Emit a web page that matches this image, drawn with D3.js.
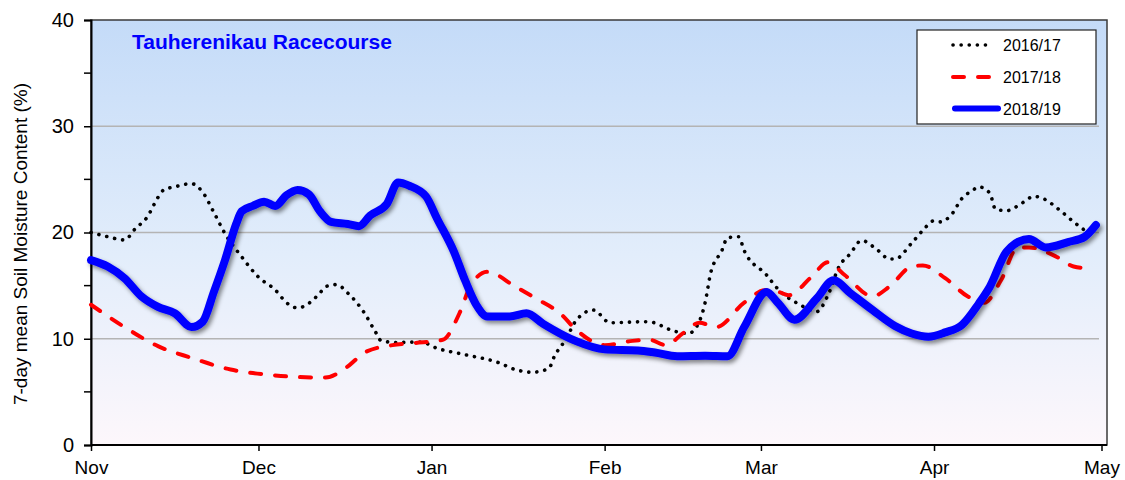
<!DOCTYPE html>
<html>
<head>
<meta charset="utf-8">
<script src="https://cdn.jsdelivr.net/npm/d3@7"></script>
<style>
  body { margin: 0; background: #fff; }
  svg { font-family: "Liberation Sans", Arial, sans-serif; }
</style>
</head>
<body>
<svg id="chart"></svg>
<script>
// days after 1 November, soil moisture (%)
const series2016 = [
  [0,20.0],[3,19.6],[6,19.3],[8,20.4],[10,21.4],[12,23.3],[13,24.0],[15,24.3],[18,24.6],[20,23.8],
  [22,21.9],[24,19.9],[27,17.7],[30,15.8],[33,14.6],[35,13.4],[37,12.9],[41,14.3],[42,14.9],[44,15.1],
  [46,14.3],[49,12.4],[51,10.6],[52,9.8],[55,9.65],[59,9.7],[62,9.1],[67,8.5],[73,7.75],[76,7.1],
  [79,6.85],[82,7.2],[83,8.35],[85,9.9],[87,11.8],[90,12.7],[93,11.5],[99,11.6],[101,11.5],[103,11.0],
  [107,10.5],[108,10.8],[110,13.4],[111,16.2],[113,18.3],[114,19.5],[116,19.6],[117,18.3],[121,16.0],[123,14.7],
  [127,13.2],[130,12.55],[132,14.1],[134,16.8],[136,18.0],[138,19.25],[141,18.3],[143,17.5],[144,17.5],[147,19.0],
  [149,20.2],[151,21.1],[152,21.0],[154,21.6],[156,23.2],[158,24.0],[159,24.3],[161,23.7],[162,22.2],[164,22.05],
  [166,22.5],[169,23.4],[170,23.3],[174,21.9],[176,21.0],[178,20.2],[180,19.4]
];
const series2017 = [
  [0,13.2],[6,11.1],[12,9.3],[18,8.2],[25,7.1],[32,6.6],[37,6.4],[42,6.35],[46,7.4],[49,8.7],
  [54,9.4],[58,9.6],[63,9.9],[66,12.4],[68,15.0],[71,16.3],[76,14.9],[80,13.7],[84,12.4],[87,10.8],
  [92,9.4],[97,9.8],[100,9.9],[103,9.4],[106,10.5],[109,11.5],[112,11.1],[117,13.4],[121,14.6],[122,14.6],
  [125,14.1],[129,15.8],[132,17.2],[135,16.0],[140,14.0],[143,14.9],[147,16.8],[149,16.9],[153,15.7],[157,14.0],
  [160,13.4],[163,15.5],[166,18.6],[168,18.6],[173,17.7],[176,16.8],[179,16.6]
];
const series2018 = [
  [0,17.4],[3,16.8],[6,15.7],[9,14.0],[12,13.0],[15,12.4],[18,11.1],[20,11.6],[22,14.4],[24,17.4],
  [26,20.8],[27,22.0],[29,22.5],[31,22.9],[33,22.5],[35,23.5],[37,24.0],[39,23.6],[41,22.0],[43,21.0],
  [46,20.8],[48,20.6],[50,21.6],[53,22.7],[55,24.7],[57,24.4],[60,23.4],[62,21.3],[65,18.2],[67,15.5],
  [69,13.2],[71,12.1],[75,12.1],[78,12.4],[81,11.4],[84,10.5],[87,9.75],[92,9.0],[98,8.9],[101,8.7],
  [105,8.35],[110,8.4],[114,8.35],[117,11.1],[121,14.4],[123,13.4],[126,11.8],[130,13.8],[133,15.5],[136,14.3],
  [140,12.7],[144,11.2],[147,10.5],[150,10.2],[153,10.6],[156,11.3],[159,13.3],[161,14.9],[164,18.2],[168,19.4],
  [171,18.6],[175,19.1],[178,19.6],[180,20.7]
];
const seasonLabels = ["2016/17", "2017/18", "2018/19"];
const monthTicks = ["Nov", "Dec", "Jan", "Feb", "Mar", "Apr", "May"];
const yTicks = [0, 10, 20, 30, 40];
const yMinorTicks = [5, 15, 25, 35];
const chartTitle = "Tauherenikau Racecourse";
const yTitle = "7-day mean Soil Moisture Content (%)";

const start = new Date(2018, 10, 1);
const toDate = d => d3.timeDay.offset(start, d[0]);

const W = 1125, H = 480;
const m = { left: 91, right: 1101.5, top: 20, bottom: 445, frame: 1107 };

const svg = d3.select('#chart').attr('width', W).attr('height', H);
const defs = svg.append('defs');

const grad = defs.append('linearGradient').attr('id', 'bg').attr('x1', 0).attr('y1', 0).attr('x2', 0).attr('y2', 1);
grad.append('stop').attr('offset', '0%').attr('stop-color', '#c4dbf8');
grad.append('stop').attr('offset', '55%').attr('stop-color', '#e2edfb');
grad.append('stop').attr('offset', '100%').attr('stop-color', '#fdf7fb');

const shadow = defs.append('filter').attr('id', 'shadow')
  .attr('x', '-5%').attr('y', '-10%').attr('width', '110%').attr('height', '130%');
shadow.append('feDropShadow').attr('dx', 2.5).attr('dy', 3).attr('stdDeviation', 2)
  .attr('flood-color', '#000').attr('flood-opacity', 0.45);

// scales
const x = d3.scaleTime()
  .domain([start, new Date(2019, 4, 1)])
  .range([m.left, m.right]);
const y = d3.scaleLinear().domain([0, 40]).range([m.bottom, m.top]);

// plot background + frame
svg.append('rect')
  .attr('x', m.left).attr('y', m.top)
  .attr('width', m.frame - m.left).attr('height', m.bottom - m.top)
  .attr('fill', 'url(#bg)')
  .attr('stroke', '#3a3a3a').attr('stroke-width', 1.5);

// gridlines
svg.append('g').selectAll('line')
  .data([10, 20, 30])
  .join('line')
  .attr('x1', m.left).attr('x2', 1099)
  .attr('y1', d => y(d)).attr('y2', d => y(d))
  .attr('stroke', '#b4b4b4').attr('stroke-width', 1.5);

// y axis
const yAxis = d3.axisLeft(y).tickValues(yTicks).tickSize(7).tickPadding(10).tickFormat(d3.format('d'));
const yg = svg.append('g').attr('transform', `translate(${m.left},0)`).call(yAxis);
yg.select('.domain').attr('stroke', '#000').attr('stroke-width', 2);
yg.selectAll('.tick line').attr('stroke', '#000').attr('stroke-width', 1.5);
yg.selectAll('.tick text').attr('font-size', 20).attr('fill', '#000').attr('font-family', null);
yg.append('g').selectAll('line')
  .data(yMinorTicks)
  .join('line')
  .attr('x1', -7).attr('x2', 0)
  .attr('y1', d => y(d)).attr('y2', d => y(d))
  .attr('stroke', '#000').attr('stroke-width', 1.5);

// x axis
const monthDates = monthTicks.map((mm, i) => d3.timeMonth.offset(start, i));
const xAxis = d3.axisBottom(x).tickValues(monthDates).tickSize(6).tickPadding(10)
  .tickFormat((d, i) => monthTicks[i]);
const xg = svg.append('g').attr('transform', `translate(0,${m.bottom})`).call(xAxis);
xg.select('.domain').attr('d', `M${m.left},0H${m.frame}`).attr('stroke', '#000').attr('stroke-width', 2);
xg.selectAll('.tick line').attr('stroke', '#000').attr('stroke-width', 1.5);
xg.selectAll('.tick text').attr('font-size', 19).attr('fill', '#000').attr('font-family', null);

// axis title
svg.append('text')
  .attr('transform', `translate(27,${(80 + 408) / 2}) rotate(-90)`)
  .attr('text-anchor', 'middle')
  .attr('font-size', 19)
  .text(yTitle);

// chart title
svg.append('text')
  .attr('x', 132).attr('y', 49)
  .attr('font-size', 21).attr('font-weight', 'bold')
  .attr('fill', '#0000ff')
  .text(chartTitle);

// lines
const line = d3.line()
  .x(d => x(toDate(d)))
  .y(d => y(d[1]))
  .curve(d3.curveMonotoneX);

const styles = [
  { data: series2016, color: '#000', width: 3.6, dash: '0.1 8', cap: 'round' },
  { data: series2017, color: '#ff0000', width: 4, dash: '11 14', cap: 'round' },
  { data: series2018, color: '#0000ff', width: 8, dash: null, cap: 'round', shadow: true }
];

svg.append('g').selectAll('path')
  .data(styles)
  .join('path')
  .attr('d', d => line(d.data))
  .attr('fill', 'none')
  .attr('stroke', d => d.color)
  .attr('stroke-width', d => d.width)
  .attr('stroke-dasharray', d => d.dash)
  .attr('stroke-linecap', d => d.cap)
  .attr('stroke-linejoin', 'round')
  .attr('filter', d => d.shadow ? 'url(#shadow)' : null);

// legend
const legend = svg.append('g');
legend.append('rect')
  .attr('x', 917).attr('y', 30).attr('width', 179).attr('height', 94)
  .attr('fill', '#fff').attr('stroke', '#222').attr('stroke-width', 1.2);
const rows = legend.selectAll('.row')
  .data(styles)
  .join('g')
  .attr('class', 'row')
  .attr('transform', (d, i) => `translate(0,${[45, 77, 108.5][i]})`);
rows.append('line')
  .attr('x1', (d, i) => i === 2 ? 955 : 953)
  .attr('x2', (d, i) => i === 2 ? 998 : 993)
  .attr('stroke', d => d.color)
  .attr('stroke-width', (d, i) => i === 2 ? 6 : d.width)
  .attr('stroke-dasharray', d => d.dash)
  .attr('stroke-linecap', d => d.cap);
rows.append('text')
  .attr('x', 1003).attr('y', 6)
  .attr('font-size', 16)
  .text((d, i) => seasonLabels[i]);
</script>
</body>
</html>
